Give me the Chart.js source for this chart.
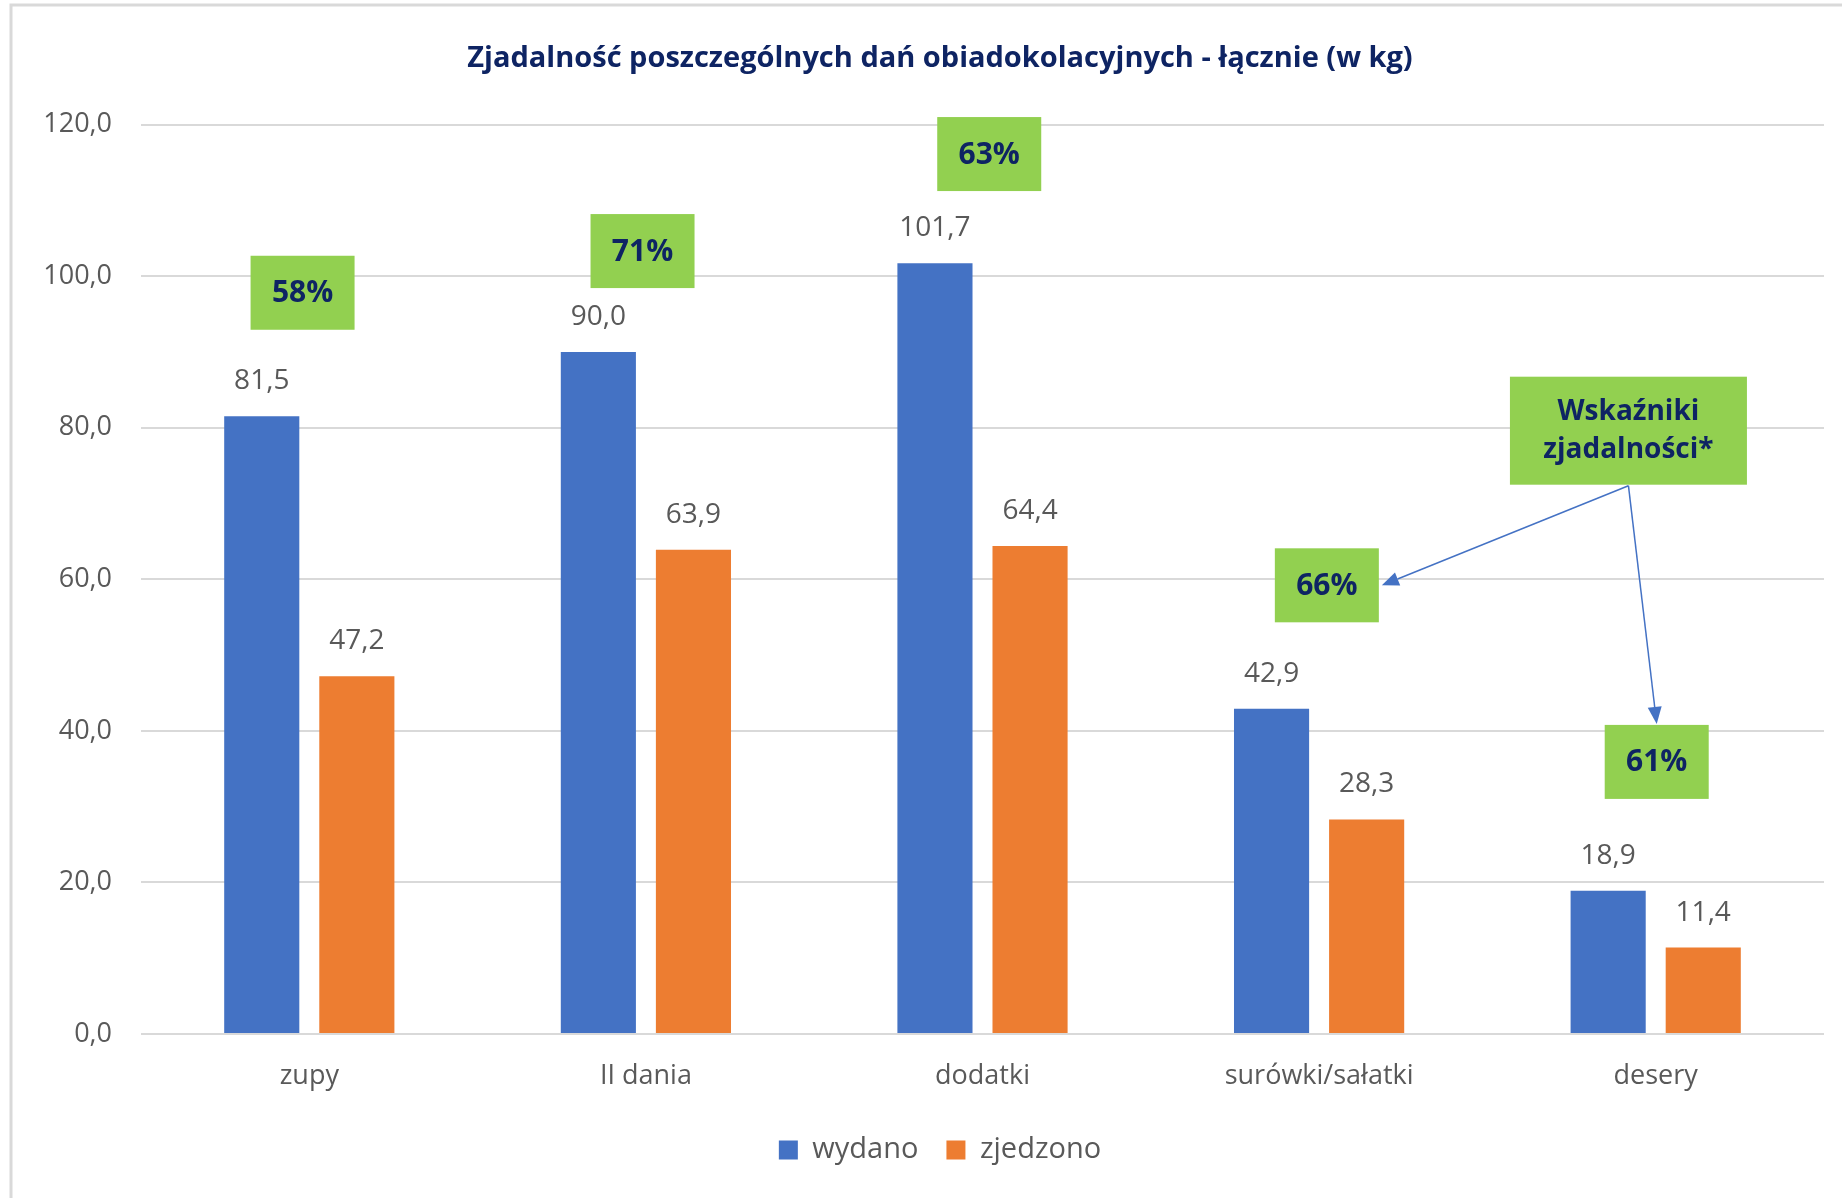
<!DOCTYPE html>
<html>
<head>
<meta charset="utf-8">
<script src="https://cdn.jsdelivr.net/npm/chart.js@4.4.0/dist/chart.umd.min.js"></script>
<style>
  html, body { margin: 0; padding: 0; background: #fff; }
</style>
</head>
<body>
<canvas id="zjadalnoscChart" width="1842" height="1198"></canvas>
<script>
// Dane wykresu
const categories = ['zupy', 'II dania', 'dodatki', 'surówki/sałatki', 'desery'];
const wydano = [81.5, 90.0, 101.7, 42.9, 18.9];
const zjedzono = [47.2, 63.9, 64.4, 28.3, 11.4];
const wskazniki = ['58%', '71%', '63%', '66%', '61%'];
const yTicks = [0, 20, 40, 60, 80, 100, 120];

// where the green boxes sit (category offset, value on the y axis)
const boxShift = [-0.02, -0.01, 0.02, 0.023, 0.003];
const boxLevel = [97.8, 103.3, 116.1, 59.2, 35.9];
const notePos = { x: 3.919, y: 79.6 };

const navy = '#0E2463';
const green = '#92D050';
const grey = '#595959';
const fmt = v => v.toFixed(1).replace('.', ',');

// white background + grey frame of the Excel chart object
const frame = {
    id: 'frame',
    beforeDraw(chart) {
        const ctx = chart.ctx;
        ctx.save();
        ctx.fillStyle = '#fff';
        ctx.fillRect(0, 0, chart.width, chart.height);
        ctx.strokeStyle = '#d9d9d9';
        ctx.lineWidth = 3;
        ctx.beginPath();
        ctx.moveTo(11, chart.height);
        ctx.lineTo(11, 5);
        ctx.lineTo(chart.width, 5);
        ctx.stroke();
        ctx.restore();
    }
};

// the chart object is wider than the picture, so title and legend sit a bit right of centre
const shiftBlocks = {
    id: 'shiftBlocks',
    afterLayout(chart) {
        [chart.titleBlock, chart.legend].forEach(b => {
            b.left += 18;
            b.right += 18;
        });
    }
};

// numbers above the bars
const valueLabels = {
    id: 'valueLabels',
    afterDatasetsDraw(chart) {
        const ctx = chart.ctx;
        ctx.save();
        ctx.font = '28px "Open Sans"';
        ctx.fillStyle = grey;
        ctx.textAlign = 'center';
        ctx.textBaseline = 'middle';
        chart.data.datasets.forEach((ds, i) => {
            chart.getDatasetMeta(i).data.forEach((bar, j) => {
                ctx.fillText(fmt(ds.data[j]), bar.x, bar.y - 35);
            });
        });
        ctx.restore();
    }
};

function arrow(ctx, x1, y1, x2, y2) {
    const a = Math.atan2(y2 - y1, x2 - x1);
    const len = 17, half = 7;
    const bx = x2 - len * Math.cos(a), by = y2 - len * Math.sin(a);
    ctx.beginPath();
    ctx.moveTo(x1, y1);
    ctx.lineTo(bx, by);
    ctx.stroke();
    ctx.beginPath();
    ctx.moveTo(x2, y2);
    ctx.lineTo(bx + half * Math.sin(a), by - half * Math.cos(a));
    ctx.lineTo(bx - half * Math.sin(a), by + half * Math.cos(a));
    ctx.closePath();
    ctx.fill();
}

// green boxes with the percentages, the note and its arrows
const wskaznikiBoxes = {
    id: 'wskaznikiBoxes',
    afterDraw(chart) {
        const ctx = chart.ctx;
        const x = chart.scales.x, y = chart.scales.y;
        const w = 104, h = 74;
        const boxes = wskazniki.map((txt, i) => {
            const cx = x.getPixelForValue(i + boxShift[i]);
            const cy = y.getPixelForValue(boxLevel[i]);
            return { txt, cx, cy, left: cx - w / 2, right: cx + w / 2, top: cy - h / 2 };
        });
        ctx.save();
        ctx.textAlign = 'center';
        ctx.textBaseline = 'middle';
        ctx.font = 'bold 30px "Open Sans"';
        boxes.forEach(b => {
            ctx.fillStyle = green;
            ctx.fillRect(b.left, b.top, w, h);
            ctx.fillStyle = navy;
            ctx.fillText(b.txt, b.cx, b.cy + 1);
        });

        const nx = x.getPixelForValue(notePos.x), ny = y.getPixelForValue(notePos.y);
        const nw = 237, nh = 108;
        ctx.fillStyle = green;
        ctx.fillRect(nx - nw / 2, ny - nh / 2, nw, nh);
        ctx.fillStyle = navy;
        ctx.font = 'bold 28px "Open Sans"';
        ctx.fillText('Wskaźniki', nx, ny - 19);
        ctx.fillText('zjadalności*', nx, ny + 19);

        ctx.strokeStyle = '#4472C4';
        ctx.fillStyle = '#4472C4';
        ctx.lineWidth = 1.5;
        const sy = ny + nh / 2 + 1;
        arrow(ctx, nx, sy, boxes[3].right + 3, boxes[3].cy);
        arrow(ctx, nx, sy, boxes[4].cx, boxes[4].top - 1);
        ctx.restore();
    }
};

const ctx = document.getElementById('zjadalnoscChart').getContext('2d');
const chart = new Chart(ctx, {
    type: 'bar',
    data: {
        labels: categories,
        datasets: [
            {
                label: 'wydano',
                data: wydano,
                backgroundColor: '#4472C4',
                categoryPercentage: 0.565,
                barPercentage: 0.79
            },
            {
                label: 'zjedzono',
                data: zjedzono,
                backgroundColor: '#ED7D31',
                categoryPercentage: 0.565,
                barPercentage: 0.79
            }
        ]
    },
    options: {
        responsive: false,
        animation: false,
        devicePixelRatio: 1,
        layout: {
            padding: { top: 10, left: 20, right: 18, bottom: 23.5 }
        },
        scales: {
            x: {
                grid: { display: false, drawTicks: false },
                border: { display: false },
                ticks: {
                    color: grey,
                    padding: 26,
                    font: { family: 'Open Sans', size: 27 }
                },
                afterFit(scale) { scale.height = 73.5; }
            },
            y: {
                min: 0,
                max: 120,
                afterBuildTicks(scale) {
                    scale.ticks = yTicks.map(v => ({ value: v }));
                },
                grid: { color: '#d9d9d9', lineWidth: 2, drawTicks: false },
                border: { display: false },
                ticks: {
                    color: grey,
                    padding: 29,
                    font: { family: 'Open Sans', size: 27 },
                    callback: v => fmt(v)
                },
                afterFit(scale) { scale.width = 121; }
            }
        },
        plugins: {
            title: {
                display: true,
                text: 'Zjadalność poszczególnych dań obiadokolacyjnych - łącznie (w kg)',
                color: navy,
                font: { family: 'Open Sans', size: 29, weight: 'bold' },
                padding: { top: 31.6, bottom: 48.1 }
            },
            legend: {
                position: 'bottom',
                labels: {
                    color: grey,
                    boxWidth: 19,
                    boxHeight: 19,
                    padding: 28,
                    font: { family: 'Open Sans', size: 29 }
                }
            },
            tooltip: { enabled: false }
        }
    },
    plugins: [frame, shiftBlocks, valueLabels, wskaznikiBoxes]
});
</script>
</body>
</html>
